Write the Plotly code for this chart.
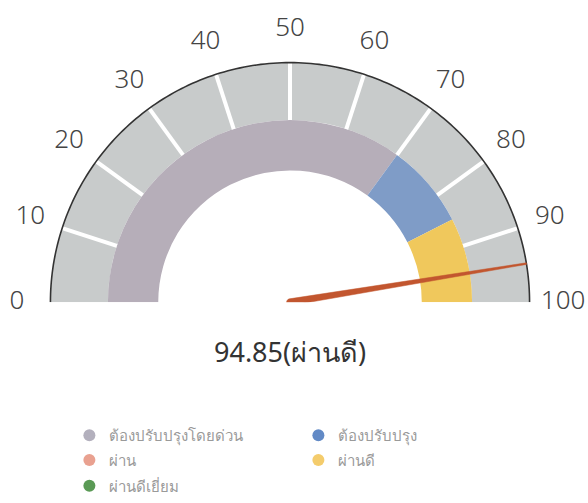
import math
import plotly.graph_objects as go

# ---------------- data ----------------
value = 94.85
value_label = "94.85(ผ่านดี)"
scale_min, scale_max = 0, 100
tick_values = [0, 10, 20, 30, 40, 50, 60, 70, 80, 90, 100]
tick_labels = ["0", "10", "20", "30", "40", "50", "60", "70", "80", "90", "100"]

band_names = ["ต้องปรับปรุงโดยด่วน", "ต้องปรับปรุง", "ผ่าน", "ผ่านดี", "ผ่านดีเยี่ยม"]
band_from = [0, 70, 85, 85, 100]
band_to = [70, 85, 85, 100, 100]
band_colors = ["#b6aeb9", "#7f9cc7", "#e6a08c", "#f0c85c", "#5f9e5a"]
legend_colors = ["#b3b0bd", "#628ac6", "#e9a190", "#f4cc6c", "#5a9a55"]
legend_rows = [[0, 1], [2, 3], [4]]

# ---------------- geometry / style ----------------
W, H = 588, 503
CX, CY, R_PX = 290.0, 304.0, 241.0      # gauge centre / outer radius (px)
R_HOLE, R_MID, R_OUT = 0.55, 0.76, 1.0
R_LABEL = 1.14
R_MAX = 1.15
GRAY = "#c8cbcb"
NEEDLE = "#c2562f"


def deg(v):
    return (v - scale_min) / (scale_max - scale_min) * 180.0


fig = go.Figure()

# outer gray band
fig.add_trace(go.Barpolar(
    r=[R_OUT - R_MID], base=[R_MID], theta=[deg((scale_min + scale_max) / 2)],
    width=[deg(scale_max) - deg(scale_min)], marker=dict(color=GRAY, line=dict(width=0)),
    showlegend=False, hoverinfo="skip"))

# coloured inner bands
for name, a, b, c in zip(band_names, band_from, band_to, band_colors):
    if b <= a:
        continue
    fig.add_trace(go.Barpolar(
        r=[R_MID - R_HOLE], base=[R_HOLE], theta=[deg((a + b) / 2)],
        width=[deg(b) - deg(a)], marker=dict(color=c, line=dict(width=0)),
        showlegend=False, hoverinfo="skip", name=name))

# white tick marks in the gray band
tr, tt = [], []
for v in tick_values[1:-1]:
    tr += [R_MID, R_OUT, None]
    tt += [deg(v), deg(v), None]
fig.add_trace(go.Scatterpolar(r=tr, theta=tt, mode="lines",
                              line=dict(color="white", width=4),
                              showlegend=False, hoverinfo="skip"))

# outer arc line
arc_t = [deg(scale_min) + k * (deg(scale_max) - deg(scale_min)) / 180 for k in range(181)]
fig.add_trace(go.Scatterpolar(r=[R_OUT] * len(arc_t), theta=arc_t, mode="lines",
                              line=dict(color="#333333", width=1.6),
                              cliponaxis=False, showlegend=False, hoverinfo="skip"))

# tick labels
fig.add_trace(go.Scatterpolar(r=[R_LABEL] * len(tick_values),
                              theta=[deg(v) for v in tick_values],
                              text=tick_labels, mode="text", textposition="middle center",
                              textfont=dict(size=26, color="#444444", weight=300),
                              cliponaxis=False, showlegend=False, hoverinfo="skip"))

# needle (tapered, rounded base)
a0 = deg(value)
base_w = 3.4 / R_PX
tip_w = 0.8 / R_PX
outline = [(0.0, -base_w), (R_OUT, -tip_w), (R_OUT, tip_w), (0.0, base_w)]
for k in range(1, 12):
    phi = math.pi / 2 + k * math.pi / 12
    outline.append((base_w * math.cos(phi), base_w * math.sin(phi)))
nr, nt = [], []
for s, w in outline:
    nr.append(math.hypot(s, w))
    nt.append(a0 + math.degrees(math.atan2(w, s)))
nr.append(nr[0]); nt.append(nt[0])
fig.add_trace(go.Scatterpolar(r=nr, theta=nt, mode="lines", fill="toself",
                              fillcolor=NEEDLE, line=dict(color=NEEDLE, width=0.5),
                              cliponaxis=False, showlegend=False, hoverinfo="skip"))

# legend entries (one legend per row)
legend_ids = ["legend", "legend2", "legend3"]
for row, lid in zip(legend_rows, legend_ids):
    for i in row:
        fig.add_trace(go.Scatterpolar(r=[None], theta=[None], mode="markers",
                                      name=band_names[i], legend=lid,
                                      marker=dict(color=legend_colors[i], size=12,
                                                  symbol="circle"),
                                      showlegend=True))

fig.add_annotation(text=value_label, x=0.493, y=1 - 354 / H, xref="paper", yref="paper",
                   xanchor="center", yanchor="middle",
                   showarrow=False, font=dict(size=27, color="#333333"))

leg_common = dict(orientation="h", xanchor="left", yanchor="middle",
                  font=dict(size=15, color="#9a9a9a"), entrywidth=184,
                  entrywidthmode="pixels", itemclick=False, itemdoubleclick=False,
                  bgcolor="rgba(0,0,0,0)", borderwidth=0)
row_y = [1 - 438 / H, 1 - 463 / H, 1 - 489 / H]

R_TOT = R_PX * R_MAX
fig.update_layout(
    width=W, height=H, margin=dict(l=0, r=0, t=0, b=0),
    paper_bgcolor="white", plot_bgcolor="white",
    font=dict(family="Noto Sans, sans-serif"),
    polar=dict(
        domain=dict(x=[(CX - R_TOT) / W, (CX + R_TOT) / W],
                    y=[(H - CY) / H, (H - CY + R_TOT) / H]),
        sector=[0, 180], bgcolor="white", barmode="overlay",
        angularaxis=dict(rotation=180, direction="clockwise",
                         showticklabels=False, ticks="",
                         showline=False, showgrid=False),
        radialaxis=dict(range=[0, R_MAX], visible=False, showgrid=False),
    ),
    legend=dict(x=0.118, y=row_y[0], **leg_common),
    legend2=dict(x=0.118, y=row_y[1], **leg_common),
    legend3=dict(x=0.118, y=row_y[2], **leg_common),
)

fig.write_html("out.html", config={"displayModeBar": False},
               post_script="document.body.style.margin='0px';")
